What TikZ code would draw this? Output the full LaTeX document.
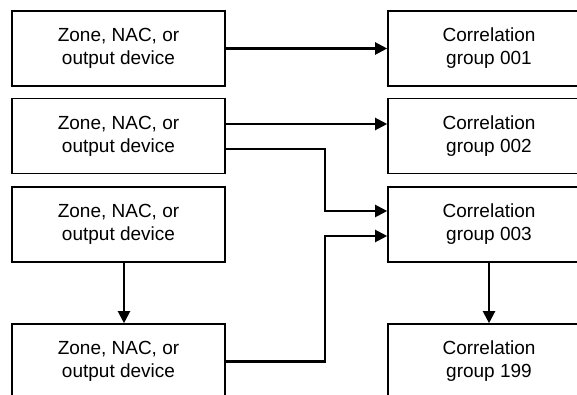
\documentclass[tikz,border=0pt]{standalone}
\usepackage{fontspec}
\setmainfont{Liberation Sans}
\usetikzlibrary{arrows.meta}
\begin{document}
\begin{tikzpicture}[x=1pt,y=-1pt,
  box/.style={draw, line width=1.6pt, rectangle, minimum height=75pt, align=center,
              font=\fontsize{19}{23}\selectfont, inner sep=0pt},
  lbox/.style={box, minimum width=213pt},
  rbox/.style={box, minimum width=202pt},
  conn/.style={line width=2.1pt, -{Triangle[length=12pt,width=12pt]}}]
\useasboundingbox (0,0) rectangle (577,395);
\clip (0,0) rectangle (577,395);
\node[lbox] (L1) at (118.5,48.5) {Zone, NAC, or\\output device};
\node[lbox] (L2) at (118.5,136) {Zone, NAC, or\\output device};
\node[lbox] (L3) at (118.5,224.5) {Zone, NAC, or\\output device};
\node[lbox] (L4) at (118.5,361.5) {Zone, NAC, or\\output device};
\node[rbox] (R1) at (489,48.5) {Correlation\\group 001};
\node[rbox] (R2) at (489,136) {Correlation\\group 002};
\node[rbox] (R3) at (489,224.5) {Correlation\\group 003};
\node[rbox] (R4) at (489,361.5) {Correlation\\group 199};
\coordinate (mx) at (325,0);
\coordinate (a2) at ([yshift=-13pt]L2.east);
\coordinate (r3a) at ([yshift=13.5pt]R3.west);
\coordinate (r3b) at ([yshift=-11.5pt]R3.west);
\draw[conn] (L1.east) -- (R1.west);
\draw[conn] ([yshift=12pt]L2.east) -- ([yshift=12pt]R2.west);
\draw[conn] (a2) -- (mx |- a2) -- (mx |- r3a) -- (r3a);
\draw[conn] (L4.east) -- (mx |- L4.east) -- (mx |- r3b) -- (r3b);
\draw[conn] ([xshift=5.5pt]L3.south) -- ([xshift=5.5pt]L4.north);
\draw[conn] (R3.south) -- (R4.north);
\end{tikzpicture}
\end{document}
